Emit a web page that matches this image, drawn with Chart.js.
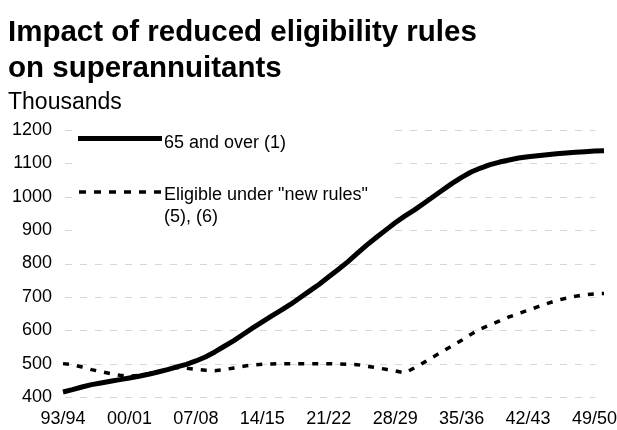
<!DOCTYPE html>
<html>
<head>
<meta charset="utf-8">
<script src="https://cdn.jsdelivr.net/npm/chart.js@4.4.1/dist/chart.umd.min.js"></script>
<style>
  body { margin: 0; background: #fff; }
  #wrap { position: relative; width: 617px; height: 430px; font-family: "Liberation Sans", Arial, sans-serif; color: #000; }
  #title { position: absolute; left: 8px; top: 13px; font-size: 29.5px; font-weight: bold; line-height: 36px; }
  #units { position: absolute; left: 8px; top: 88px; font-size: 23px; line-height: 26px; }
  #chartCanvas { position: absolute; left: 0; top: 0; }
</style>
</head>
<body>
<div id="wrap">
  <canvas id="chartCanvas" width="617" height="430"></canvas>
  <div id="title">Impact of reduced eligibility rules<br>on superannuitants</div>
  <div id="units">Thousands</div>
</div>
<script>
const years = [
  "93/94", "94/95", "95/96", "96/97", "97/98", "98/99", "99/00", "00/01", "01/02", "02/03",
  "03/04", "04/05", "05/06", "06/07", "07/08", "08/09", "09/10", "10/11", "11/12", "12/13",
  "13/14", "14/15", "15/16", "16/17", "17/18", "18/19", "19/20", "20/21", "21/22", "22/23",
  "23/24", "24/25", "25/26", "26/27", "27/28", "28/29", "29/30", "30/31", "31/32", "32/33",
  "33/34", "34/35", "35/36", "36/37", "37/38", "38/39", "39/40", "40/41", "41/42", "42/43",
  "43/44", "44/45", "45/46", "46/47", "47/48", "48/49", "49/50", "50/51"
];

// 65 and over (1), thousands
const over65 = [
  415, 422, 430, 437, 442, 447, 452, 457, 462, 468,
  475, 482, 490, 498, 508, 520, 535, 552, 569, 588,
  607, 625, 643, 660, 678, 698, 718, 738, 760, 782,
  805, 830, 855, 878, 900, 922, 942, 960, 980, 1000,
  1020, 1040, 1058, 1074, 1086, 1096, 1104, 1110, 1116, 1120,
  1123, 1126, 1129, 1131, 1133, 1135, 1137, 1138
];

// Eligible under "new rules" (5), (6), thousands
const newRules = [
  500, 497, 490, 482, 476, 470, 465, 462, 465, 470,
  476, 482, 488, 486, 483, 480, 479, 482, 487, 492,
  496, 498, 499, 500, 500, 500, 500, 500, 500, 499,
  498, 497, 492, 488, 483, 478, 472, 487, 503, 520,
  537, 553, 570, 588, 604, 616, 628, 640, 650, 660,
  670, 680, 689, 696, 702, 706, 709, 710
];

const yTicks = [400, 500, 600, 700, 800, 900, 1000, 1100, 1200];
const labelEvery = 7;

const FONT = "Liberation Sans, Arial, sans-serif";

// dashed horizontal grid plus the legend block in the top-left corner
const gridAndLegend = {
  id: "gridAndLegend",
  beforeDatasetsDraw(chart) {
    const { ctx, scales } = chart;
    const x0 = scales.x.getPixelForValue(0) + 2;
    const x1 = scales.x.getPixelForValue(56) + 1;
    ctx.save();
    ctx.strokeStyle = "#d6d6d6";
    ctx.lineWidth = 1;
    ctx.setLineDash([7, 8]);
    yTicks.forEach((v) => {
      const y = Math.round(scales.y.getPixelForValue(v)) + 0.5;
      ctx.beginPath();
      ctx.moveTo(x0, y);
      ctx.lineTo(x1, y);
      ctx.stroke();
    });

    ctx.setLineDash([]);
    ctx.fillStyle = "#fff";
    ctx.fillRect(73, 118, 314, 122);

    ctx.strokeStyle = "#000";
    ctx.lineWidth = 5;
    ctx.beginPath();
    ctx.moveTo(78, 138.5);
    ctx.lineTo(162, 138.5);
    ctx.stroke();

    ctx.lineWidth = 3.5;
    ctx.setLineDash([7, 8]);
    ctx.beginPath();
    ctx.moveTo(79, 192);
    ctx.lineTo(162, 192);
    ctx.stroke();
    ctx.setLineDash([]);

    ctx.fillStyle = "#000";
    ctx.font = "18px " + FONT;
    ctx.textBaseline = "alphabetic";
    ctx.fillText("65 and over (1)", 164, 148);
    ctx.fillText("Eligible under \"new rules\"", 164, 200);
    ctx.fillText("(5), (6)", 164, 222);
    ctx.restore();
  },
};

const ctx = document.getElementById("chartCanvas").getContext("2d");
new Chart(ctx, {
  type: "line",
  data: {
    labels: years,
    datasets: [
      {
        label: "65 and over (1)",
        data: over65,
        borderColor: "#000",
        borderWidth: 5,
        borderJoinStyle: "round",
        pointRadius: 0,
        tension: 0,
      },
      {
        label: "Eligible under \"new rules\" (5), (6)",
        data: newRules,
        borderColor: "#000",
        borderWidth: 3.5,
        borderDash: [6, 8],
        pointRadius: 0,
        tension: 0,
      },
    ],
  },
  options: {
    responsive: false,
    animation: false,
    devicePixelRatio: 1,
    layout: { padding: { top: 130, right: 13, left: 0, bottom: 0 } },
    plugins: {
      legend: { display: false },
      tooltip: { enabled: false },
    },
    scales: {
      x: {
        offset: false,
        grid: { display: false, drawTicks: false },
        border: { display: false },
        afterFit: (scale) => { scale.height = 33; },
        ticks: {
          autoSkip: false,
          maxRotation: 0,
          padding: 11,
          color: "#000",
          font: { family: FONT, size: 18 },
          callback: (val, i) => (i % labelEvery === 0 ? years[i] : ""),
        },
      },
      y: {
        min: 400,
        max: 1200,
        grid: { display: false, drawTicks: false },
        border: { display: false },
        afterFit: (scale) => { scale.width = 63; },
        ticks: {
          stepSize: 100,
          padding: 11,
          color: "#000",
          font: { family: FONT, size: 18 },
          callback: (v) => String(v),
        },
      },
    },
  },
  plugins: [gridAndLegend],
});
</script>
</body>
</html>
